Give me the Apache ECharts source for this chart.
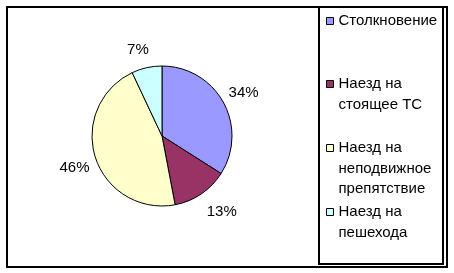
<!DOCTYPE html>
<html>
<head>
<meta charset="utf-8">
<script src="https://cdn.jsdelivr.net/npm/echarts@6/dist/echarts.min.js"></script>
<style>
  html, body { margin: 0; padding: 0; background: #ffffff; }
  #chart { width: 454px; height: 273px; }
</style>
</head>
<body>
<div id="chart"></div>
<script>
// Types of road accidents and their shares, %
const categories = [
  'Столкновение',
  'Наезд на\nстоящее ТС',
  'Наезд на\nнеподвижное\nпрепятствие',
  'Наезд на\nпешехода'
];
const shares = [34, 13, 46, 7];
const sliceColors = ['#9999FF', '#993366', '#FFFFCC', '#CCFFFF'];

const FONT = 'Liberation Sans, Arial, sans-serif';
const FONT_SIZE = 15;
const LINE_H = 20.5;
// vertical position of the first text line of each legend entry
const legendLineCenters = [21, 84, 148, 212];
// small nudges of the percentage labels away from the pure radial spot
const labelNudges = [[1, 1], [8, 0], [0, 3], [-4, 4]];

const pieData = categories.map((name, i) => ({
  name: name,
  value: shares[i],
  itemStyle: { color: sliceColors[i] }
}));

// one legend block per entry so each can sit at its own height;
// blank lines above the name keep the marker level with the first line
const legends = categories.map((name, i) => {
  const lines = name.split('\n').length;
  return {
    data: [name],
    orient: 'vertical',
    left: 326,
    top: legendLineCenters[i] - (2 * lines - 1) * LINE_H / 2,
    padding: 0,
    icon: 'rect',
    itemWidth: 7,
    itemHeight: 7,
    itemGap: 0,
    selectedMode: false,
    formatter: n => '\n'.repeat(n.split('\n').length - 1) + n,
    itemStyle: { borderColor: '#000', borderWidth: 1 },
    textStyle: {
      fontFamily: FONT,
      fontSize: FONT_SIZE,
      color: '#000',
      lineHeight: LINE_H
    }
  };
});

const chart = echarts.init(document.getElementById('chart'), null, { renderer: 'canvas' });
chart.setOption({
  animation: false,
  backgroundColor: '#ffffff',
  legend: legends,
  graphic: [
    {
      type: 'rect',
      shape: { x: 7, y: 7, width: 440, height: 260 },
      style: { fill: 'none', stroke: '#000', lineWidth: 2 },
      silent: true
    },
    {
      type: 'rect',
      shape: { x: 319, y: 7, width: 124, height: 257 },
      style: { fill: 'none', stroke: '#000', lineWidth: 2 },
      silent: true
    }
  ],
  series: [
    {
      type: 'pie',
      center: [162, 136],
      radius: 70,
      startAngle: 90,
      clockwise: true,
      data: pieData,
      label: { show: false },
      labelLine: { show: false },
      emphasis: { disabled: true },
      itemStyle: { borderColor: '#000', borderWidth: 1 }
    },
    {
      // transparent ring around the pie that carries the percentage labels
      type: 'pie',
      center: [162, 136],
      radius: [70, 108],
      startAngle: 90,
      clockwise: true,
      silent: true,
      data: pieData.map((d, i) => ({
        name: d.name,
        value: d.value,
        label: { offset: labelNudges[i] }
      })),
      itemStyle: { color: 'rgba(0,0,0,0)', borderWidth: 0 },
      label: {
        show: true,
        position: 'inside',
        formatter: '{d}%',
        fontFamily: FONT,
        fontSize: FONT_SIZE,
        color: '#000'
      },
      labelLine: { show: false },
      emphasis: { disabled: true }
    }
  ]
});
</script>
</body>
</html>
